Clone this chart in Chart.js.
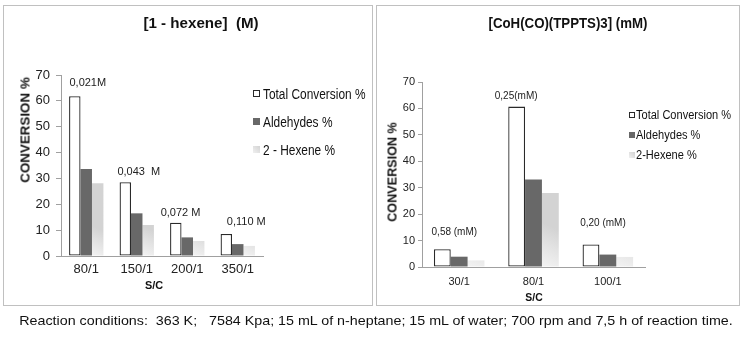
<!DOCTYPE html>
<html><head><meta charset="utf-8">
<script src="https://cdn.jsdelivr.net/npm/chart.js@4.4.1/dist/chart.umd.min.js"></script>
<style>
html,body{margin:0;padding:0;background:#fff;}
#stage{position:relative;width:747px;height:337px;overflow:hidden;font-family:'Liberation Sans',Arial,sans-serif;color:#111;}
.box{position:absolute;border:1px solid #c0c0c0;box-sizing:border-box;}
canvas{position:absolute;left:0;top:0;}
.t{position:absolute;white-space:pre;line-height:1;}
.sw{position:absolute;box-sizing:border-box;}
</style></head><body>
<div id="stage">
 <div class="box" style="left:3px;top:5px;width:370px;height:301px"></div>
 <div class="box" style="left:376px;top:5px;width:364px;height:301px"></div>
 <canvas id="c1" width="747" height="337"></canvas>
 <canvas id="c2" width="747" height="337"></canvas>
</div>
<script>
// ---- data ----
const categoriesLeft = ['80/1', '150/1', '200/1', '350/1'];
const totalLeft = [61.8, 28.5, 12.9, 8.5];
const aldehydesLeft = [33.6, 16.5, 7.2, 4.6];
const hexeneLeft = [28.1, 12.0, 5.8, 3.9];
const concLeft = ['0,021M', '0,043  M', '0,072 M', '0,110 M'];
const seriesLeft = ['Total Conversion %', 'Aldehydes %', '2 - Hexene %'];

const categoriesRight = ['30/1', '80/1', '100/1'];
const totalRight = [6.7, 60.7, 8.5];
const aldehydesRight = [3.9, 33.1, 4.7];
const hexeneRight = [2.5, 28.0, 3.8];
const concRight = ['0,58 (mM)', '0,25(mM)', '0,20 (mM)'];
const seriesRight = ['Total Conversion %', 'Aldehydes %', '2-Hexene %'];

const titleLeft = '[1 - hexene]  (M)';
const titleRight = '[CoH(CO)(TPPTS)3] (mM)';
const yTitle = 'CONVERSION %';
const xTitle = 'S/C';
const caption = 'Reaction conditions:  363 K;   7584 Kpa; 15 mL of n-heptane; 15 mL of water; 700 rpm and 7,5 h of reaction time.';
const yMin = 0, yMax = 70, yStep = 10;

// ---- styles ----
const FONT = "'Liberation Sans', Arial, sans-serif";
Chart.defaults.font.family = FONT;
const CAT_PCT = 0.68;
const fills = ['#ffffff', '#686868', '#d3d3d3'];
const borders = ['#2a2a2a', '#686868', '#d3d3d3'];

// light gradient for the third series (lighter lower-left corner, as in the original)
function hexFill(c) {
  const chart = c.chart, xs = chart.scales.x, ys = chart.scales.y;
  if (!xs || !ys || !chart.chartArea || c.dataIndex === undefined) return fills[2];
  const n = chart.data.labels.length;
  const cw = xs.width / n, group = cw * CAT_PCT, bw = group / 3;
  const left = xs.getPixelForValue(c.dataIndex) - group / 2 + 2 * bw;
  const bottom = ys.getPixelForValue(0);
  const g = chart.ctx.createLinearGradient(left, bottom, left + bw, bottom - 2.2 * bw);
  g.addColorStop(0, '#f3f3f3');
  g.addColorStop(0.55, '#e2e2e2');
  g.addColorStop(1, '#d3d3d3');
  return g;
}

const labelPlugin = {
  id: 'concLabels',
  afterDatasetsDraw(chart, args, opts) {
    const meta = chart.getDatasetMeta(0);
    const ctx = chart.ctx;
    ctx.save();
    ctx.font = opts.font;
    ctx.fillStyle = '#222';
    ctx.textAlign = 'center';
    ctx.textBaseline = 'middle';
    opts.labels.forEach((txt, i) => {
      const el = meta.data[i];
      const o = opts.offsets[i];
      ctx.fillText(txt, el.x + o[0], el.y + o[1]);
    });
    ctx.restore();
  }
};

function makeChart(id, cats, names, series, L) {
  return new Chart(document.getElementById(id), {
    type: 'bar',
    data: {
      labels: cats,
      datasets: series.map((s, k) => ({
        label: names[k], data: s,
        backgroundColor: k === 2 ? hexFill : fills[k], borderColor: borders[k],
        borderWidth: k === 0 ? 1.3 : 0, borderSkipped: false,
        categoryPercentage: CAT_PCT, barPercentage: 1.0
      }))
    },
    options: {
      responsive: false, animation: false, devicePixelRatio: 1,
      layout: { padding: L.pad },
      plugins: {
        legend: { display: false }, tooltip: { enabled: false },
        concLabels: { labels: L.labels, offsets: L.offsets, font: L.labelFont }
      },
      scales: {
        x: {
          grid: { display: false, drawTicks: false },
          border: { display: true, color: '#a0a0a0', width: 1 },
          ticks: { color: '#222', font: { size: L.tickSize }, padding: L.xPad },
          afterFit: s => { s.height = 25; }
        },
        y: {
          min: yMin, max: yMax,
          grid: { display: true, drawOnChartArea: false, drawTicks: true, tickLength: L.tickLen, color: '#a0a0a0' },
          border: { display: true, color: '#a0a0a0', width: 1 },
          ticks: { stepSize: yStep, color: '#222', font: { size: L.tickSize }, padding: L.yPad },
          afterFit: s => { s.width = L.yW; }
        }
      }
    },
    plugins: [labelPlugin]
  });
}

makeChart('c1', categoriesLeft, seriesLeft, [totalLeft, aldehydesLeft, hexeneLeft], {
  pad: { left: 0, right: 484, top: 75, bottom: 56 }, yW: 61,
  tickSize: 13, xPad: 6, yPad: 6, tickLen: 5,
  labels: concLeft, offsets: [[13, -13], [13.5, -10.5], [4.7, -10], [20, -12]],
  labelFont: "11px " + FONT
});
makeChart('c2', categoriesRight, seriesRight, [totalRight, aldehydesRight, hexeneRight], {
  pad: { left: 372, right: 102, top: 82, bottom: 45 }, yW: 50,
  tickSize: 11, xPad: 8, yPad: 3, tickLen: 4,
  labels: concRight, offsets: [[12, -17], [-0.5, -10], [12, -21]],
  labelFont: "10px " + FONT
});

// ---- HTML text ----
const stage = document.getElementById('stage');
function text(str, cx, cy, font, target, rot) {
  const d = document.createElement('div');
  d.className = 't'; d.textContent = str; d.style.font = font;
  d.style.left = cx + 'px'; d.style.top = cy + 'px';
  stage.appendChild(d);
  const k = target ? target / d.offsetWidth : 1;
  d.style.transformOrigin = 'center center';
  d.style.transform = 'translate(-50%,-50%)' + (rot ? ' rotate(' + rot + 'deg)' : '') + ' scale(' + k + ',1)';
  return d;
}
function legend(names, swX, swSize, txX, rows, font, scaleK) {
  names.forEach((n, k) => {
    const s = document.createElement('div');
    s.className = 'sw';
    s.style.left = swX + 'px'; s.style.top = (rows[k] - swSize / 2) + 'px';
    s.style.width = swSize + 'px'; s.style.height = swSize + 'px';
    s.style.background = k === 2 ? 'linear-gradient(45deg,#f0f0f0,#d3d3d3)' : fills[k];
    if (k === 0) s.style.border = '1px solid #2a2a2a';
    stage.appendChild(s);
    const d = document.createElement('div');
    d.className = 't'; d.textContent = n; d.style.font = font;
    d.style.left = txX + 'px'; d.style.top = rows[k] + 'px';
    d.style.transformOrigin = 'left center';
    d.style.transform = 'translateY(-50%) scale(' + scaleK + ',1)';
    stage.appendChild(d);
  });
}

text(titleLeft, 200.5, 22, "bold 15px " + FONT, 115);
text(titleRight, 567.5, 22, "bold 15px " + FONT, 159);
text(yTitle, 25, 130, "bold 13.5px " + FONT, 106, -90);
text(yTitle, 392, 172, "bold 13px " + FONT, 100, -90);
text(xTitle, 153.5, 285, "bold 11.5px " + FONT, 18);
text(xTitle, 533.5, 297, "bold 11px " + FONT, 17);
legend(seriesLeft, 253, 7, 263, [93.5, 121.5, 149.5], "14px " + FONT, 0.85);
legend(seriesRight, 629, 6, 636, [114.5, 135, 155], "12px " + FONT, 0.92);
text(caption, 376, 320, "13px " + FONT, 713);
</script>
</body></html>
